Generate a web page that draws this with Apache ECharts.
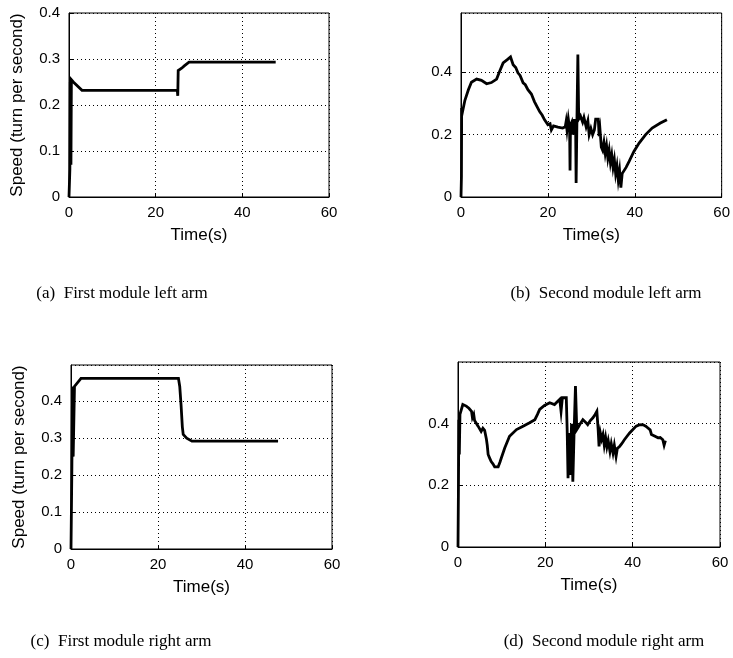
<!DOCTYPE html>
<html>
<head>
<meta charset="utf-8">
<script src="https://cdn.jsdelivr.net/npm/echarts@6/dist/echarts.min.js"></script>
<style>
  html, body { margin: 0; padding: 0; background: #fff; }
  #chart { width: 733px; height: 658px; }
</style>
</head>
<body>
<div id="chart"></div>
<script>
// Time axis ticks shared by all four panels (seconds)
const timeTicks = [0, 20, 40, 60];

// (a) First module left arm
const timeA  = [0, 0.2, 0.3, 0.45, 0.55, 1.0, 3.0, 25.0, 25.1, 25.2, 26.0, 26.6, 27.7, 47.7];
const speedA = [0, 0.06, 0.25, 0.07, 0.255, 0.25, 0.232, 0.232, 0.22, 0.275, 0.28, 0.285, 0.293, 0.293];

// (b) Second module left arm
const timeB  = [0, 0.1, 0.15, 0.3, 0.9, 1.7, 2.4, 3.6, 4.7, 5.9, 7.0, 8.2, 8.9, 9.7, 10.8, 11.4, 12.0, 12.6,
                13.1, 13.6, 14.3, 14.8, 15.4, 16.2, 16.9, 17.5, 18.1, 18.7, 19.2, 20.0, 20.5, 20.8, 21.3, 22.3,
                23.4, 24.0, 24.2, 24.4, 24.7, 25.0, 25.1, 25.2, 25.5, 25.8, 26.1, 26.4, 26.5, 26.7, 26.9, 27.1,
                27.5, 28.0, 28.3, 28.8, 29.2, 29.5, 29.9, 30.3, 30.7, 31.0, 31.6, 31.8, 32.0, 32.3, 32.6, 32.9,
                33.2, 33.5, 33.8, 34.1, 34.4, 34.7, 35.0, 35.3, 35.6, 35.9, 36.2, 36.5, 36.8, 37.1, 37.5, 38.0,
                38.7, 39.8, 41.0, 42.5, 44.0, 45.9, 47.4];
const speedB = [0, 0.065, 0.285, 0.27, 0.31, 0.344, 0.368, 0.378, 0.374, 0.363, 0.367, 0.378, 0.403, 0.43, 0.442, 0.449, 0.424, 0.415,
                0.398, 0.39, 0.366, 0.36, 0.344, 0.33, 0.306, 0.29, 0.274, 0.262, 0.248, 0.232, 0.235, 0.215, 0.228, 0.224,
                0.221, 0.225, 0.242, 0.215, 0.25, 0.22, 0.085, 0.23, 0.24, 0.2, 0.25, 0.2, 0.045, 0.26, 0.457, 0.25,
                0.26, 0.24, 0.255, 0.225, 0.245, 0.2, 0.22, 0.2, 0.215, 0.25, 0.25, 0.195, 0.215, 0.16, 0.15, 0.175,
                0.14, 0.165, 0.125, 0.15, 0.11, 0.135, 0.095, 0.12, 0.075, 0.1, 0.055, 0.085, 0.03, 0.075, 0.08, 0.095,
                0.114, 0.146, 0.173, 0.2, 0.221, 0.237, 0.248];

// (c) First module right arm
const timeC  = [0, 0.2, 0.35, 0.5, 0.8, 2.3, 24.7, 25.0, 25.3, 25.6, 25.8, 26.6, 27.8, 47.6];
const speedC = [0, 0.22, 0.44, 0.25, 0.44, 0.462, 0.462, 0.44, 0.39, 0.33, 0.31, 0.30, 0.292, 0.292];

// (d) Second module right arm
const timeD  = [0, 0.1, 0.2, 0.3, 0.45, 1.1, 1.9, 2.5, 3.1, 3.3, 3.6, 3.8, 4.2, 4.6, 5.0, 5.3, 5.7, 6.1, 6.5, 6.7,
                6.9, 7.2, 7.6, 8.0, 8.4, 8.8, 9.2, 9.6, 9.9, 10.7, 11.8, 13.4, 14.9, 16.4, 17.6, 18.2, 18.7, 19.8,
                21.0, 22.1, 23.3, 23.6, 23.9, 24.8, 25.0, 25.2, 25.5, 25.7, 26.0, 26.3, 26.6, 26.9, 27.2, 27.6,
                28.0, 28.6, 29.2, 29.7, 30.3, 30.9, 31.4, 31.8, 32.1, 32.3, 32.6, 32.9, 33.2, 33.5, 33.8, 34.1,
                34.4, 34.8, 35.1, 35.5, 35.8, 36.2, 36.5, 37.0, 37.5, 38.1, 39.3, 40.0, 40.8, 41.5, 42.3, 43.0,
                43.5, 44.0, 44.3, 44.6, 45.0, 45.4, 45.8, 46.3, 46.9, 47.2, 47.5];
const speedD = [0, 0.19, 0.413, 0.3, 0.43, 0.462, 0.457, 0.45, 0.44, 0.42, 0.43, 0.41, 0.405, 0.392, 0.39, 0.375, 0.385, 0.378, 0.35, 0.33,
                0.3, 0.29, 0.277, 0.27, 0.26, 0.265, 0.26, 0.275, 0.288, 0.321, 0.359, 0.381, 0.392, 0.403, 0.413, 0.43, 0.446, 0.459,
                0.468, 0.462, 0.479, 0.44, 0.484, 0.484, 0.38, 0.223, 0.37, 0.234, 0.4, 0.212, 0.38, 0.522, 0.381, 0.39,
                0.4, 0.413, 0.405, 0.397, 0.41, 0.419, 0.43, 0.44, 0.38, 0.326, 0.37, 0.35, 0.365, 0.33, 0.355, 0.325,
                0.345, 0.31, 0.335, 0.305, 0.33, 0.294, 0.32, 0.326, 0.335, 0.348, 0.37, 0.38, 0.392, 0.396, 0.397, 0.392,
                0.386, 0.38, 0.365, 0.37, 0.36, 0.365, 0.354, 0.355, 0.348, 0.33, 0.345];

// Captions under each panel
const captions = ['(a)  First module left arm', '(b)  Second module left arm',
                  '(c)  First module right arm', '(d)  Second module right arm'];
const yAxisTitle = 'Speed (turn per second)';
const xAxisTitle = 'Time(s)';

const zip = (xs, ys) => xs.map((x, i) => [x, ys[i]]);

const sans = 'Liberation Sans, Arial, sans-serif';
const serif = 'Liberation Serif, Times New Roman, serif';

const panels = [
  { grid: { left: 69,  top: 13,  width: 260, height: 184 }, yMax: 0.4,  yStep: 0.1, yName: true,  showMax: true,  data: zip(timeA, speedA) },
  { grid: { left: 461, top: 13,  width: 262, height: 184 }, yMax: 0.59, yStep: 0.2, yName: false, showMax: false, data: zip(timeB, speedB) },
  { grid: { left: 71,  top: 365, width: 261, height: 184 }, yMax: 0.498, yStep: 0.1, yName: true, showMax: false, data: zip(timeC, speedC) },
  { grid: { left: 458, top: 362, width: 262, height: 185 }, yMax: 0.6,  yStep: 0.2, yName: false, showMax: false, data: zip(timeD, speedD) }
];

const dotted = { color: '#000', width: 1, type: [1, 3] };
const tickText = { color: '#000', fontFamily: sans, fontSize: 15 };
const titleText = { color: '#000', fontFamily: sans, fontSize: 17 };

const option = {
  backgroundColor: '#fff',
  animation: false,
  grid: panels.map(p => Object.assign({ show: true, borderColor: '#000', borderWidth: 1, backgroundColor: '#fff' }, p.grid)),
  xAxis: panels.map((p, i) => ({
    type: 'value', gridIndex: i, min: timeTicks[0], max: timeTicks[timeTicks.length - 1], interval: 20,
    name: xAxisTitle, nameLocation: 'middle', nameGap: 30, nameTextStyle: titleText,
    axisLine: { show: true, lineStyle: { color: '#000', width: 1 } },
    axisTick: { show: true, inside: true, length: 4, lineStyle: { color: '#000' } },
    axisLabel: Object.assign({ margin: 8 }, tickText),
    splitLine: { show: true, lineStyle: dotted }
  })),
  yAxis: panels.map((p, i) => ({
    type: 'value', gridIndex: i, min: 0, max: p.yMax, interval: p.yStep,
    name: p.yName ? yAxisTitle : '', nameLocation: 'middle', nameGap: 43, nameTextStyle: titleText,
    axisLine: { show: true, lineStyle: { color: '#000', width: 1 } },
    axisTick: { show: true, inside: true, length: 4, lineStyle: { color: '#000' } },
    axisLabel: Object.assign({ margin: 9, showMaxLabel: p.showMax, formatter: v => String(+v.toFixed(1)) }, tickText),
    splitLine: { show: true, lineStyle: dotted }
  })),
  series: panels.map((p, i) => ({
    type: 'line', xAxisIndex: i, yAxisIndex: i, data: p.data,
    showSymbol: false, symbol: 'none', smooth: false,
    lineStyle: { color: '#000', width: 2.8, join: 'miter' },
    clip: true
  })),
  graphic: [[122, 294], [606, 294], [121, 642], [604, 642]].map((pos, i) => ({
    type: 'text', x: pos[0], y: pos[1],
    style: { text: captions[i], fill: '#000', font: '17px ' + serif, align: 'center', verticalAlign: 'middle' }
  }))
};

const chart = echarts.init(document.getElementById('chart'), null, { renderer: 'canvas' });
chart.setOption(option);
</script>
</body>
</html>
